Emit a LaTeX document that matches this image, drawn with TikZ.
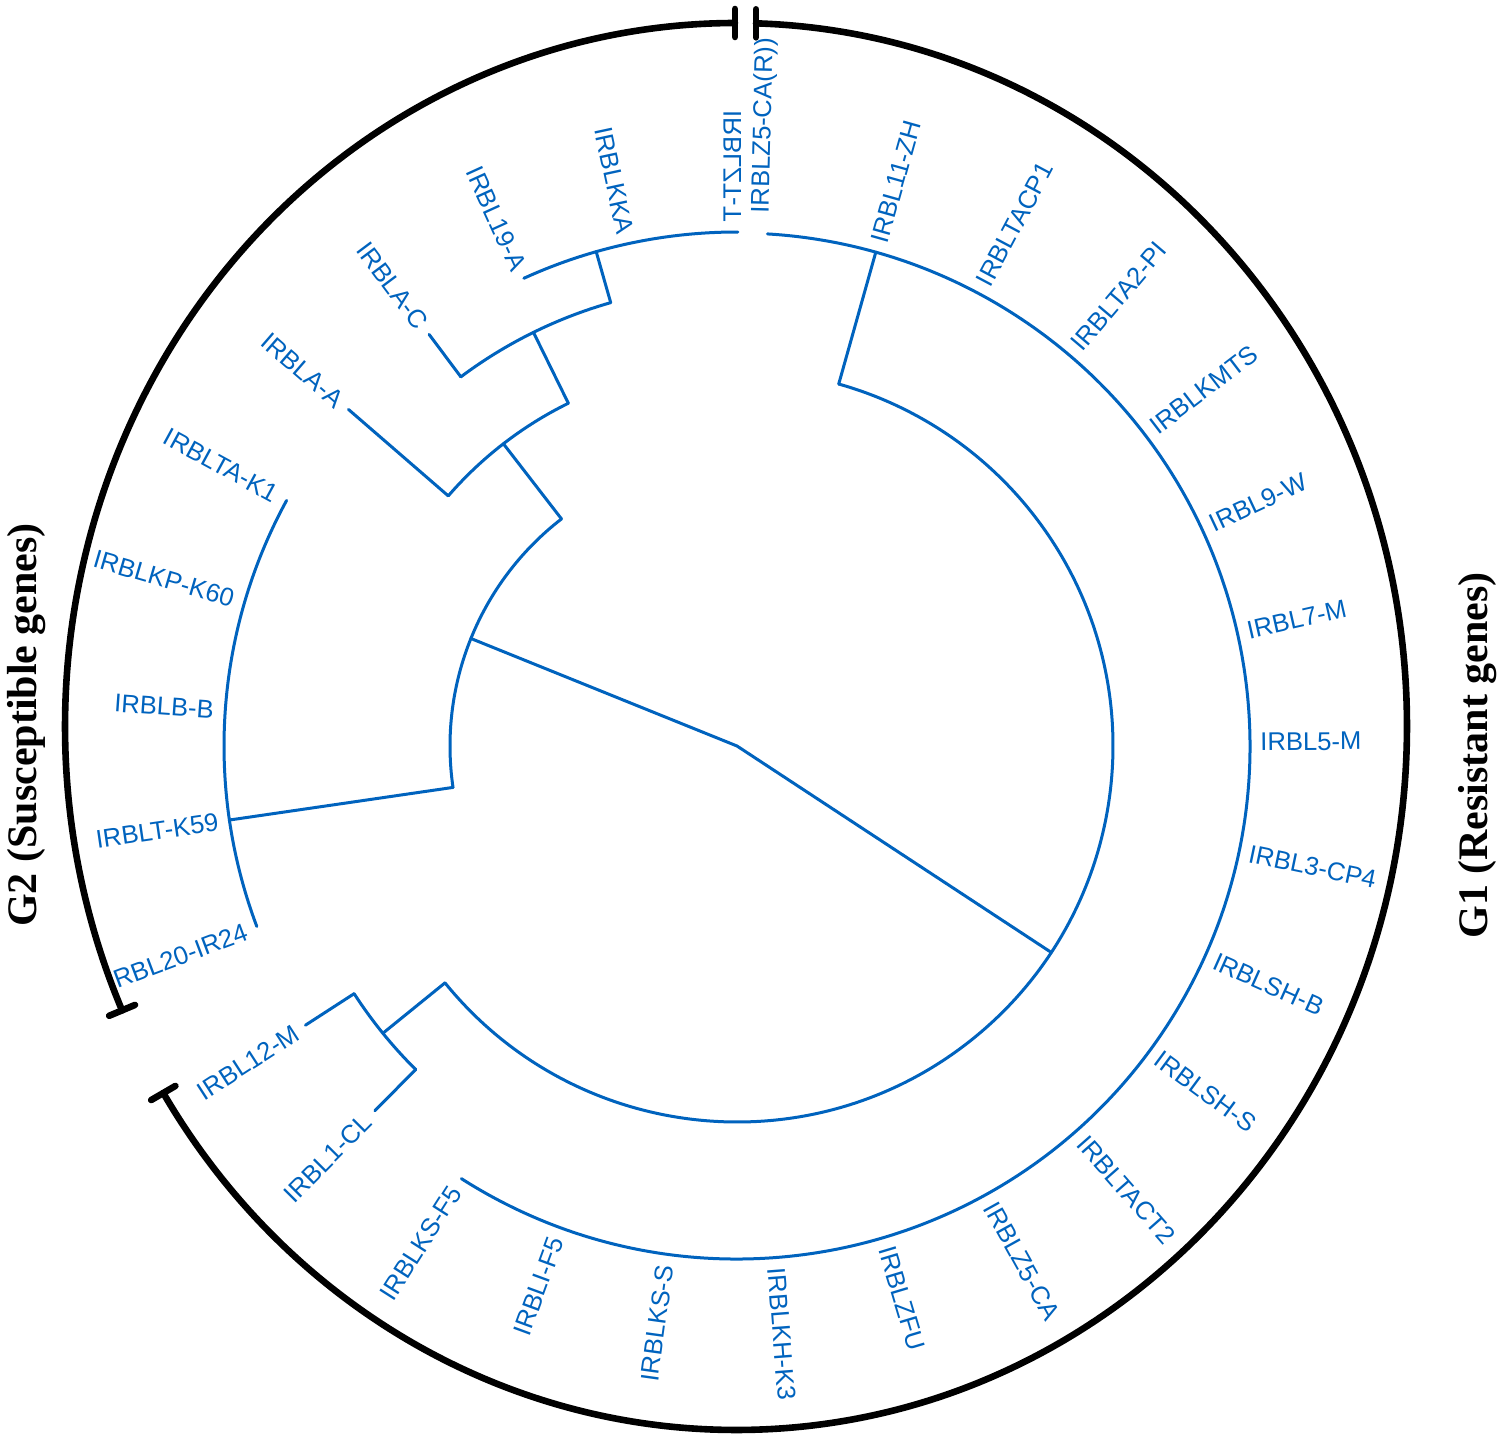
\documentclass[tikz,border=0pt]{standalone}
\usepackage{fontspec}
\usepackage{graphicx}
\setmainfont{Liberation Sans}
\newfontfamily\gfont{Liberation Serif}
\definecolor{treeblue}{RGB}{0,99,190}
\begin{document}
\begin{tikzpicture}[x=0.5pt,y=0.5pt,
  branch/.style={draw=treeblue,line width=1.5pt,line cap=round},
  bracket/.style={draw=black,line width=3.3pt,line cap=round},
  leaflab/.style={text=treeblue,inner sep=0pt,font=\fontsize{12.8}{14}\selectfont,text height=9.2pt,text depth=0pt},
  leafR/.style={leaflab,anchor=west},
  leafL/.style={leaflab,anchor=east},
  glabel/.style={inner sep=0pt,anchor=base,rotate=90,font=\gfont\bfseries\fontsize{21}{24}\selectfont}
]
\useasboundingbox (-737,-693) rectangle (763,746);
\fill[white] (-737,-693) rectangle (763,746);

% ---------- tree nodes ----------
\coordinate (root) at (0,0);
\coordinate (g1) at (-33.3:376);
\coordinate (g2) at (158.0:287);
% G1 clade
\coordinate (g1a) at (74.3:376);
\coordinate (g1at) at (74.3:513);
\coordinate (g1b) at (-140.95:376);
\coordinate (g1bt) at (-140.95:456);
\coordinate (g1leafstart) at (-122.5:513);
\coordinate (c12m) at (-147.1:456);
\coordinate (c12mt) at (-147.1:514);
\coordinate (c1cl) at (-134.8:456);
\coordinate (c1clt) at (-134.8:514);
% G2 clade
\coordinate (g2a) at (127.7:287);
\coordinate (g2at) at (127.7:382);
\coordinate (g2b) at (188.3:287);
\coordinate (g2bt) at (188.3:513);
\coordinate (g2leafstart) at (151.4:513);
\coordinate (n382s) at (116.2:382);
\coordinate (n382st) at (116.2:461);
\coordinate (naa) at (139.1:382);
\coordinate (naat) at (139.1:514);
\coordinate (n461s) at (105.9:461);
\coordinate (n461st) at (105.9:514);
\coordinate (nac) at (126.8:461);
\coordinate (nact) at (126.8:514);
\coordinate (ntop) at (89.9:514);

% ---------- branches ----------
\draw[branch] (g2) -- (root) -- (g1);
% G1
\draw[branch] (g1b) arc[start angle=-140.95, end angle=74.3, radius=376];
\draw[branch] (g1a) -- (g1at);
\draw[branch] (g1leafstart) arc[start angle=-122.5, end angle=86.6, radius=513];
\draw[branch] (g1b) -- (g1bt);
\draw[branch] (c12m) arc[start angle=-147.1, end angle=-134.8, radius=456];
\draw[branch] (c12m) -- (c12mt);
\draw[branch] (c1cl) -- (c1clt);
% G2
\draw[branch] (g2a) arc[start angle=127.7, end angle=188.3, radius=287];
\draw[branch] (g2b) -- (g2bt);
\draw[branch] (g2leafstart) arc[start angle=151.4, end angle=200.6, radius=513];
\draw[branch] (g2a) -- (g2at);
\draw[branch] (n382s) arc[start angle=116.2, end angle=139.1, radius=382];
\draw[branch] (naa) -- (naat);
\draw[branch] (n382s) -- (n382st);
\draw[branch] (n461s) arc[start angle=105.9, end angle=126.8, radius=461];
\draw[branch] (nac) -- (nact);
\draw[branch] (n461s) -- (n461st);
\draw[branch] (ntop) arc[start angle=89.9, end angle=114.5, radius=514];

% ---------- leaf labels ----------
\foreach \k/\nm in {1/IRBL11-ZH,2/IRBLTACP1,3/IRBLTA2-PI,4/IRBLKMTS,5/IRBL9-W,6/IRBL7-M,7/IRBL5-M,8/IRBL3-CP4,9/IRBLSH-B,10/IRBLSH-S,11/IRBLTACT2,12/IRBLZ5-CA,13/IRBLZFU,14/IRBLKH-K3}{
  \pgfmathsetmacro\ang{86.6-12.3*\k}
  \node[leafR,rotate=\ang] (L\k) at (\ang:523) {\nm};
}
\foreach \k/\nm in {15/IRBLKS-S,16/IRBLI-F5,17/IRBLKS-F5,18/IRBL1-CL,19/IRBL12-M,20/IRBL20-IR24,21/IRBLT-K59,22/IRBLB-B,23/IRBLKP-K60,24/IRBLTA-K1,25/IRBLA-A,26/IRBLA-C,27/IRBL19-A,28/IRBLKKA}{
  \pgfmathsetmacro\ang{86.6-12.3*\k}
  \pgfmathsetmacro\rot{\ang+180}
  \node[leafL,rotate=\rot] (L\k) at (\ang:524) {\nm};
}
\node[leafR,rotate=88.6] (L0) at (87.6:533) {IRBLZ5-CA(R))};
\node[leafR,rotate=90] (L29) at (90.55:524) {\reflectbox{IRBLZT-T}};

% ---------- group brackets ----------
\coordinate (E1) at ([shift={(-1,19.5)}]90.09:671 and 703.5);
\coordinate (E2) at ([shift={(-1,19.5)}]88.29:671 and 703.5);
\coordinate (E3) at ([shift={(-1,19.5)}]203.8:671 and 703.5);
\coordinate (E4) at ([shift={(-1,19.5)}]-148.6:671 and 703.5);
\draw[bracket] (E1) arc[start angle=90.09, end angle=203.8, x radius=671, y radius=703.5];
\draw[bracket] (E2) arc[start angle=88.29, end angle=-148.6, x radius=671, y radius=703.5];
\draw[bracket] (E1) ++(0,-14) -- ++(0,28);
\draw[bracket] (E2) ++(0,-14) -- ++(0,28);
\draw[bracket] (E3) ++(202.8:14) -- ++(22.8:28);
\draw[bracket] (E4) ++(210.2:14) -- ++(30.2:28);

\node[glabel] (G1lab) at (750,-9.5) {G1 (Resistant genes)};
\node[glabel] (G2lab) at (-700,21) {G2 (Susceptible genes)};
\end{tikzpicture}
\end{document}
